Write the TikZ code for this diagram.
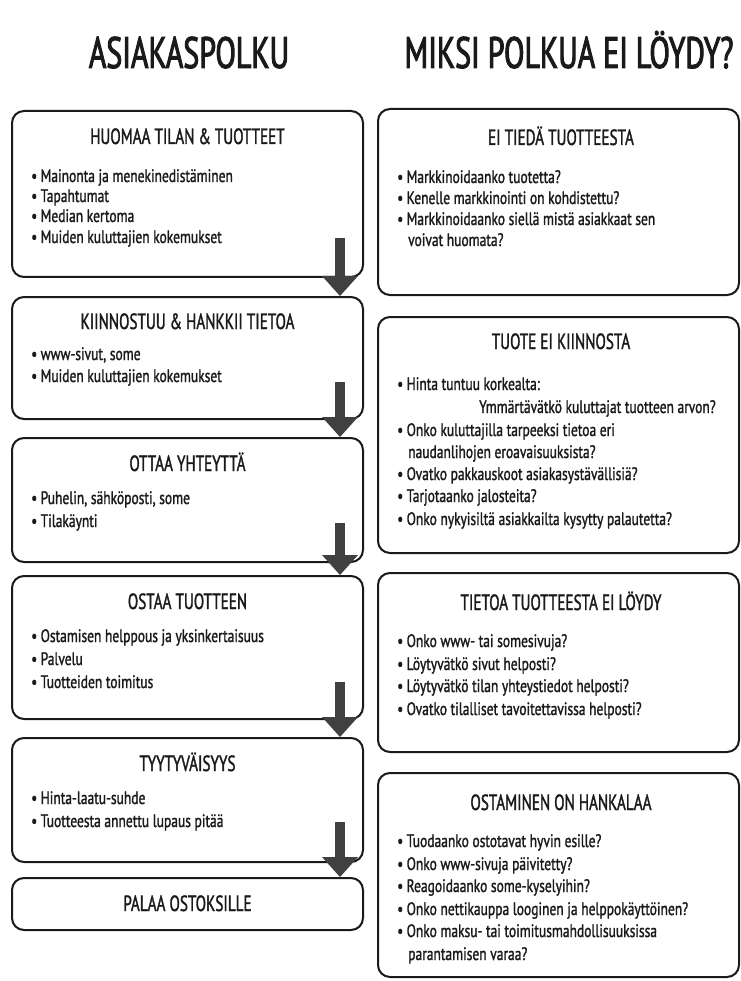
\documentclass[tikz,border=0pt]{standalone}
\usepackage{fontspec}
\setmainfont{PT Sans}[FakeStretch=0.75,FakeBold=1.3]
\newfontfamily\boxtitlefont{PT Sans}[FakeStretch=0.69,FakeBold=1.4]
\newfontfamily\headfont{PT Sans}[FakeStretch=0.68,FakeBold=2.2]
\usetikzlibrary{arrows.meta}
\definecolor{ink}{HTML}{1A1A1A}
\definecolor{arr}{HTML}{404040}
\newcommand{\bu}{\makebox[9.5pt][l]{\textbullet}}
\begin{document}
\begin{tikzpicture}[x=1pt,y=-1pt,
  box/.style={draw=ink, line width=2pt, rounded corners=12pt, fill=white, inner sep=0pt, minimum width=#1},
  bl/.style={anchor=base west, inner sep=0pt, font=\fontsize{18}{21}\selectfont, text=ink},
  bt/.style={anchor=base, inner sep=0pt, font=\boxtitlefont\fontsize{22}{26}\selectfont, text=ink},
  hd/.style={anchor=base, inner sep=0pt, font=\headfont\fontsize{44}{50}\selectfont, text=ink},
  flow/.style={draw=arr, line width=10pt, -{Triangle[width=36pt,length=20pt,line width=0pt]}}]
\useasboundingbox (0,0) rectangle (740,981);
\fill[white] (0,0) rectangle (740,981);
% headings
\node[hd] (h1) at (189,68) {ASIAKASPOLKU};
\node[hd] (h2) at (569,68) {MIKSI POLKUA EI LÖYDY?};
% left boxes
\node[box=351pt, minimum height=166pt] (L1) at (187.5,194) {};
\node[box=351pt, minimum height=122pt] (L2) at (187.5,358) {};
\node[box=351pt, minimum height=124pt] (L3) at (187.5,500) {};
\node[box=351pt, minimum height=143pt] (L4) at (187.5,647.5) {};
\node[box=351pt, minimum height=124pt] (L5) at (187.5,800) {};
\node[box=351pt, minimum height=52pt] (L6) at (187.5,904) {};
% right boxes
\node[box=361pt, minimum height=186pt] (R1) at (558.5,202) {};
\node[box=361pt, minimum height=236pt] (R2) at (558.5,435) {};
\node[box=361pt, minimum height=179pt] (R3) at (558.5,662.5) {};
\node[box=361pt, minimum height=204pt] (R4) at (558.5,875) {};
% left texts
\node[bt] (L1t) at (187.5,144) {HUOMAA TILAN \& TUOTTEET};
\node[bl] (L1a) at (31,182) {\bu Mainonta ja menekinedistäminen};
\node[bl] (L1b) at (31,202) {\bu Tapahtumat};
\node[bl] (L1c) at (31,222) {\bu Median kertoma};
\node[bl] (L1d) at (31,243) {\bu Muiden kuluttajien kokemukset};
\node[bt] (L2t) at (187.5,329) {KIINNOSTUU \& HANKKII TIETOA};
\node[bl] (L2a) at (31,360) {\bu www-sivut, some};
\node[bl] (L2b) at (31,382) {\bu Muiden kuluttajien kokemukset};
\node[bt] (L3t) at (187.5,471) {OTTAA YHTEYTTÄ};
\node[bl] (L3a) at (31,504) {\bu Puhelin, sähköposti, some};
\node[bl] (L3b) at (31,527) {\bu Tilakäynti};
\node[bt] (L4t) at (187.5,609) {OSTAA TUOTTEEN};
\node[bl] (L4a) at (31,642) {\bu Ostamisen helppous ja yksinkertaisuus};
\node[bl] (L4b) at (31,665) {\bu Palvelu};
\node[bl] (L4c) at (31,688) {\bu Tuotteiden toimitus};
\node[bt] (L5t) at (187.5,771) {TYYTYVÄISYYS};
\node[bl] (L5a) at (31,804) {\bu Hinta-laatu-suhde};
\node[bl] (L5b) at (31,827) {\bu Tuotteesta annettu lupaus pitää};
\node[bt] (L6t) at (187.5,911) {PALAA OSTOKSILLE};
% right texts
\node[bt] (R1t) at (561,145) {EI TIEDÄ TUOTTEESTA};
\node[bl] (R1a) at (397,183) {\bu Markkinoidaanko tuotetta?};
\node[bl] (R1b) at (397,204) {\bu Kenelle markkinointi on kohdistettu?};
\node[bl] (R1c) at (397,225) {\bu Markkinoidaanko siellä mistä asiakkaat sen};
\node[bl] (R1d) at (408,246) {voivat huomata?};
\node[bt] (R2t) at (561,349) {TUOTE EI KIINNOSTA};
\node[bl] (R2a) at (397,390) {\bu Hinta tuntuu korkealta:};
\node[bl] (R2b) at (479,413) {Ymmärtävätkö kuluttajat tuotteen arvon?};
\node[bl] (R2c) at (397,436) {\bu Onko kuluttajilla tarpeeksi tietoa eri};
\node[bl] (R2d) at (408,458) {naudanlihojen eroavaisuuksista?};
\node[bl] (R2e) at (397,480) {\bu Ovatko pakkauskoot asiakasystävällisiä?};
\node[bl] (R2f) at (397,502) {\bu Tarjotaanko jalosteita?};
\node[bl] (R2g) at (397,525) {\bu Onko nykyisiltä asiakkailta kysytty palautetta?};
\node[bt] (R3t) at (561,610) {TIETOA TUOTTEESTA EI LÖYDY};
\node[bl] (R3a) at (397,647) {\bu Onko www- tai somesivuja?};
\node[bl] (R3b) at (397,670) {\bu Löytyvätkö sivut helposti?};
\node[bl] (R3c) at (397,692) {\bu Löytyvätkö tilan yhteystiedot helposti?};
\node[bl] (R3d) at (397,715) {\bu Ovatko tilalliset tavoitettavissa helposti?};
\node[bt] (R4t) at (561,810) {OSTAMINEN ON HANKALAA};
\node[bl] (R4a) at (397,847) {\bu Tuodaanko ostotavat hyvin esille?};
\node[bl] (R4b) at (397,870) {\bu Onko www-sivuja päivitetty?};
\node[bl] (R4c) at (397,892) {\bu Reagoidaanko some-kyselyihin?};
\node[bl] (R4d) at (397,915) {\bu Onko nettikauppa looginen ja helppokäyttöinen?};
\node[bl] (R4e) at (397,937) {\bu Onko maksu- tai toimitusmahdollisuuksissa};
\node[bl] (R4f) at (408,960) {parantamisen varaa?};
% arrows
\coordinate (a1) at (340,238);
\coordinate (a2) at (340,382);
\coordinate (a3) at (340,523);
\coordinate (a4) at (340,682);
\coordinate (a5) at (340,822);
\draw[flow] (a1) -- (a1 |- L2.north);
\draw[flow] (a2) -- (a2 |- L3.north);
\draw[flow] (a3) -- (a3 |- L4.north);
\draw[flow] (a4) -- (a4 |- L5.north);
\draw[flow] (a5) -- (a5 |- L6.north);
\end{tikzpicture}
\end{document}
